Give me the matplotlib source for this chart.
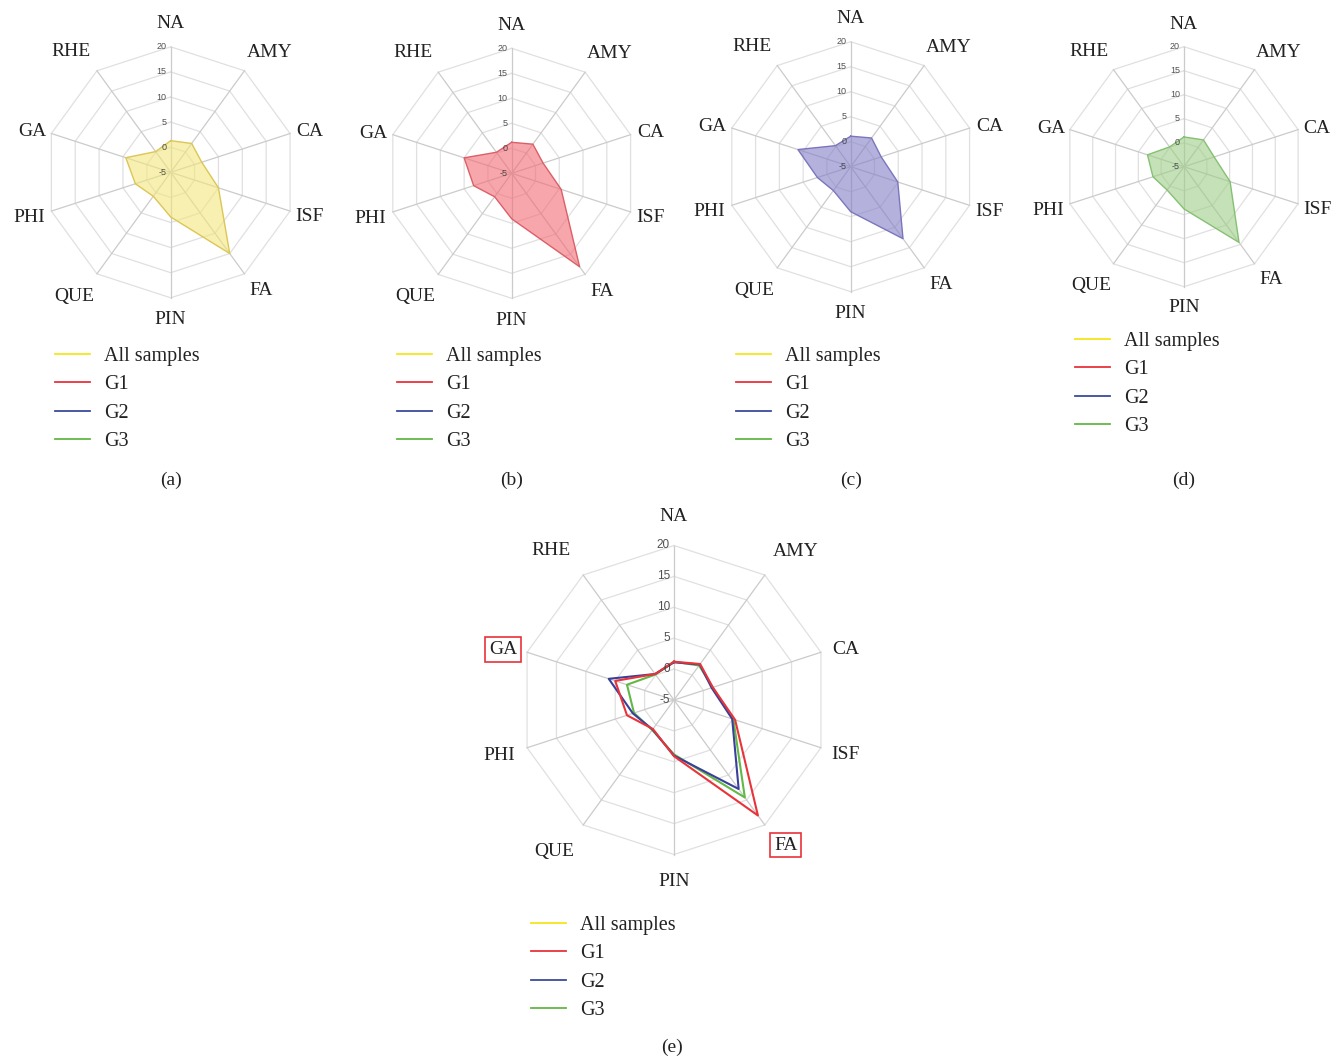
import numpy as np
import matplotlib
matplotlib.use("Agg")
import matplotlib.pyplot as plt
from matplotlib.lines import Line2D
from matplotlib import transforms

# Categories on the radar axes (clockwise from the top)
categories = ["NA", "AMY", "CA", "ISF", "FA", "PIN", "QUE", "PHI", "GA", "RHE"]

# Scores per group
all_samples = [1.3, 2.1, 1.5, 5.0, 15.0, 3.9, 0.9, 2.4, 4.4, 0.1]
g1 = [1.2, 2.2, 1.6, 5.4, 18.1, 4.1, 0.8, 3.0, 5.0, 0.2]
g2 = [1.1, 2.1, 1.4, 4.9, 12.8, 4.0, 0.9, 2.0, 6.1, 0.2]
g3 = [1.2, 1.9, 1.6, 5.1, 14.5, 3.8, 1.0, 1.8, 3.0, 0.1]

r_ticks = [-5, 0, 5, 10, 15, 20]
legend_labels = ["All samples", "G1", "G2", "G3"]
legend_colors = ["#f5e61a", "#e8333a", "#3c4a9c", "#62b845"]

# where each category name sits: angle (deg, clockwise from top) and
# distance as a multiple of the outer radius
label_angle = [0, 39, 73, 107, 142, 180, 218.5, 253, 287, 321]
label_dist = [1.2, 1.25, 1.16, 1.16, 1.175, 1.16, 1.24, 1.18, 1.155, 1.26]

W, H = 1333, 1059
fig = plt.figure(figsize=(W / 100, H / 100), dpi=100)
fig.patch.set_facecolor("white")

SERIF = "Liberation Serif"
SANS = "Liberation Sans"
n = len(categories)
theta = np.arange(n) * 2 * np.pi / n
theta_c = np.append(theta, theta[0])
span = r_ticks[-1] - r_ticks[0]


def radar_axes(cx, cy, R):
    ax = fig.add_axes([(cx - R) / W, (H - cy - R) / H, 2 * R / W, 2 * R / H],
                      projection="polar")
    ax.set_theta_offset(np.pi / 2)
    ax.set_theta_direction(-1)
    ax.set_rlim(r_ticks[0], r_ticks[-1])
    ax.set_xticks([])
    ax.set_yticks([])
    ax.grid(False)
    ax.spines["polar"].set_visible(False)
    ax.patch.set_visible(False)

    # decagon grid
    for r in r_ticks[1:]:
        ax.plot(theta_c, [r] * (n + 1), color="#e0e0e0", lw=0.9,
                zorder=1, clip_on=False)
    for t in theta:
        ax.plot([t, t], [r_ticks[0], r_ticks[-1]], color="#cbcbcb", lw=0.9,
                zorder=1, clip_on=False)

    # radial tick labels along the NA spoke
    tick_fs = 6.5 if R < 140 else 8.5
    off = transforms.offset_copy(ax.transData, fig=fig, x=-3, y=0, units="points")
    for r in r_ticks:
        ax.text(0, r, str(r), transform=off, ha="right", va="center",
                fontsize=tick_fs, family=SANS, color="#333333", alpha=0.85,
                zorder=5)
    return ax


def category_labels(ax, boxed=()):
    off = transforms.offset_copy(ax.transData, fig=fig, x=0, y=-2, units="dots")
    for ang, dist, name in zip(label_angle, label_dist, categories):
        kw = {}
        if name in boxed:
            kw["bbox"] = dict(boxstyle="square,pad=0.2", fc="none",
                              ec="#e8333a", lw=1.2)
        ax.text(np.deg2rad(ang), r_ticks[0] + span * dist, name,
                transform=off, ha="center", va="center", fontsize=14,
                family=SERIF, color="#222222", clip_on=False, **kw)


def add_legend(x, y):
    handles = [Line2D([0], [0], color=c, lw=1.3) for c in legend_colors]
    fig.legend(handles, legend_labels, loc="upper left",
               bbox_to_anchor=(x / W, 1 - y / H), bbox_transform=fig.transFigure,
               frameon=False, borderpad=0, borderaxespad=0,
               handlelength=1.75, handletextpad=0.7, labelspacing=0.46,
               prop={"family": SERIF, "size": 14.5}, labelcolor="#222222")


# single-series panels
panels = [
    (170.7, 172.3, 125.5, all_samples, "#f3e67c", "#dcc656", "(a)", 55, 347),
    (511.7, 173.3, 125.0, g1, "#f36b73", "#dc5f68", "(b)", 397, 347),
    (850.7, 166.7, 125.0, g2, "#837ec6", "#7a76bd", "(c)", 736, 347),
    (1184.0, 166.7, 120.0, g3, "#9ece87", "#86c072", "(d)", 1075, 332),
]
for cx, cy, R, vals, fc, ec, tag, lx, ly in panels:
    ax = radar_axes(cx, cy, R)
    v = np.append(vals, vals[0])
    ax.fill(theta_c, v, color=fc, alpha=0.6, zorder=3, lw=0)
    ax.plot(theta_c, v, color=ec, lw=1.0, zorder=4)
    category_labels(ax)
    add_legend(lx, ly)
    fig.text(cx / W, 1 - 480 / H, tag, ha="center", va="center",
             fontsize=14, family=SERIF, color="#222222")

# combined panel
ax = radar_axes(674.0, 700.0, 154.5)
for vals, c in [(g3, "#62b845"), (g2, "#3a3f9a"), (g1, "#e8333a")]:
    ax.plot(theta_c, np.append(vals, vals[0]), color=c, lw=1.5, zorder=4)
category_labels(ax, boxed=("GA", "FA"))
add_legend(531, 916)
fig.text(672 / W, 1 - 1047 / H, "(e)", ha="center", va="center",
         fontsize=14, family=SERIF, color="#222222")

fig.savefig("out.png", dpi=100, facecolor="white")
